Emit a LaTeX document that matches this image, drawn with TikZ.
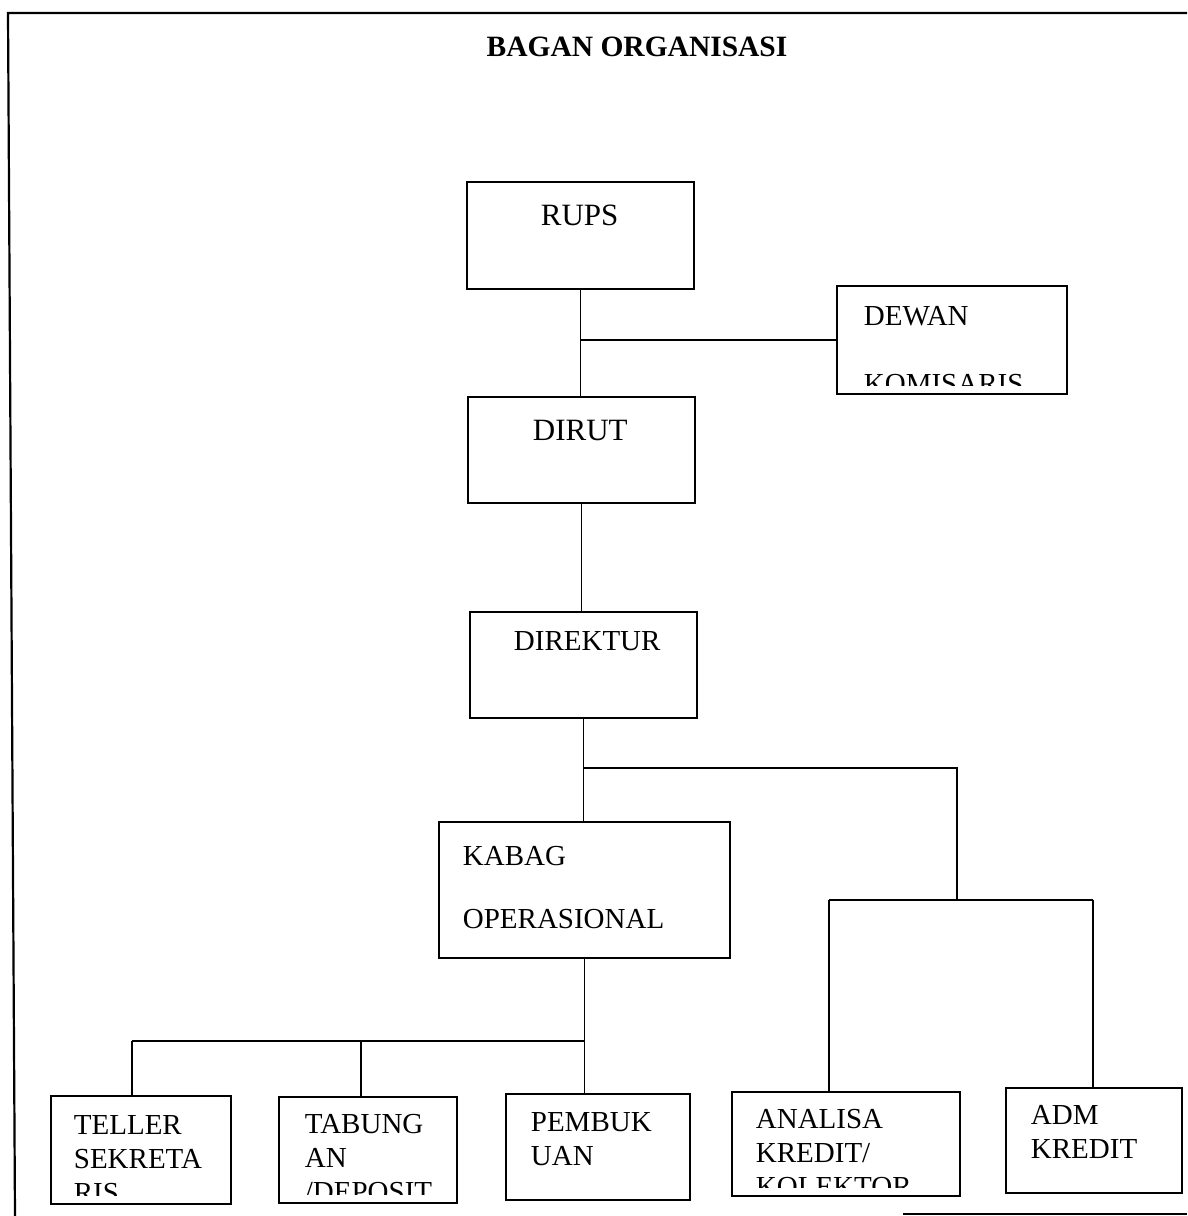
\documentclass[tikz,border=0pt]{standalone}
\usepackage{fontspec}
\setmainfont{Liberation Serif}
\begin{document}
\begin{tikzpicture}[x=1pt, y=-1pt, line width=1.8pt,
    box/.style={draw, inner sep=0pt},
    lbl/.style={anchor=base west, inner sep=0pt, font=\fontsize{29}{34}\selectfont},
    big/.style={lbl, font=\fontsize{31}{36}\selectfont}]
\useasboundingbox (0,0) rectangle (1187,1216);
% frame of the page
\draw [line width=2.2pt] (1187,13) -- (8,13) -- (15,1216);
\draw [line width=2.2pt] (903,1214) -- (1187,1214);
\node (title) at (637,56) [anchor=base, inner sep=0pt, font=\fontsize{29.5}{34}\selectfont\bfseries] {BAGAN ORGANISASI};

% boxes
\node (rups) at (580.5,235.5) [box, minimum width=227pt, minimum height=107pt] {};
\node (dewan) at (952,340) [box, minimum width=230pt, minimum height=108pt] {};
\node (dirut) at (581.5,450) [box, minimum width=227pt, minimum height=106pt] {};
\node (direktur) at (583.5,665) [box, minimum width=227pt, minimum height=106pt] {};
\node (kabag) at (584.5,890) [box, minimum width=291pt, minimum height=136pt] {};
\node (teller) at (141,1150) [box, minimum width=180pt, minimum height=108pt] {};
\node (tabung) at (368,1150) [box, minimum width=178pt, minimum height=106pt] {};
\node (pembuk) at (598,1147) [box, minimum width=184pt, minimum height=106pt] {};
\node (analisa) at (846,1144) [box, minimum width=228pt, minimum height=104pt] {};
\node (adm) at (1094,1140.5) [box, minimum width=176pt, minimum height=105pt] {};

% texts
\node (t-rups) at (540,225) [big] {RUPS};
\node (t-dewan) at (863,325) [lbl] {DEWAN};
\begin{scope}
  \clip (dewan.north west) rectangle ([yshift=9pt]dewan.south east);
  \node (t-komisaris) at (863,393) [lbl] {KOMISARIS};
\end{scope}
\node (t-dirut) at (532,440) [big] {DIRUT};
\node (t-direktur) at (513,650) [lbl] {DIREKTUR};
\node (t-kabag) at (462,865) [lbl] {KABAG};
\node (t-operasional) at (462,928) [lbl] {OPERASIONAL};
\begin{scope}
  \clip (teller.north west) rectangle ([yshift=9pt]teller.south east);
  \node (t-teller) at (73,1134) [lbl] {TELLER};
  \node (t-sekreta) at (73,1168) [lbl] {SEKRETA};
  \node (t-ris) at (73,1202) [lbl] {RIS};
\end{scope}
\begin{scope}
  \clip (tabung.north west) rectangle ([yshift=9pt]tabung.south east);
  \node (t-tabung) at (304,1133) [lbl] {TABUNG};
  \node (t-an) at (304,1167) [lbl] {AN};
  \node (t-deposit) at (304,1201) [lbl] {/DEPOSIT};
\end{scope}
\node (t-pembuk) at (530,1131) [lbl] {PEMBUK};
\node (t-uan) at (530,1165) [lbl] {UAN};
\begin{scope}
  \clip (analisa.north west) rectangle ([yshift=9pt]analisa.south east);
  \node (t-analisa) at (755,1128) [lbl] {ANALISA};
  \node (t-kredit) at (755,1162) [lbl] {KREDIT/};
  \node (t-kolektor) at (755,1196) [lbl] {KOLEKTOR};
\end{scope}
\node (t-adm) at (1030,1124) [lbl] {ADM};
\node (t-admkredit) at (1030,1158) [lbl] {KREDIT};

% connectors
\coordinate (kk) at (957,768);
\coordinate (ka) at (829,900);
\coordinate (kd) at (1093,900);
\coordinate (kt) at (132,1041);
\coordinate (kb) at (361,1041);
\draw (rups.south) -- (rups.south |- dirut.north);
\draw (rups.south |- dewan.west) -- (dewan.west);
\draw (dirut.south) -- (dirut.south |- direktur.north);
\draw (direktur.south) -- (direktur.south |- kabag.north);
\draw (direktur.south |- kk) -| (ka -| kk);
\draw (ka) -- (kd);
\draw (ka) -- (ka |- analisa.north);
\draw (kd) -- (kd |- adm.north);
\draw (kabag.south) -- (kabag.south |- pembuk.north);
\draw (kt) -- (kabag.south |- kt);
\draw (kt) -- (kt |- teller.north);
\draw (kb) -- (kb |- tabung.north);
\end{tikzpicture}
\end{document}
